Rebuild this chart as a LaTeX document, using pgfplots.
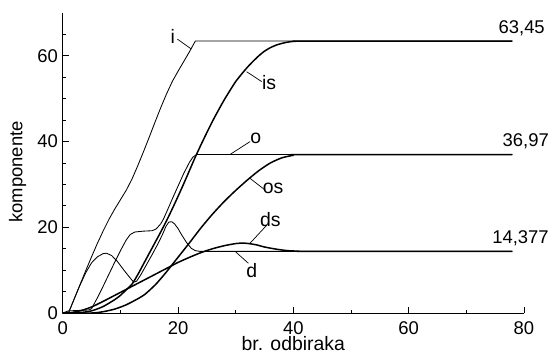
\documentclass[border=0pt]{standalone}
\usepackage{fontspec}
\setmainfont{Liberation Sans}
\usepackage{pgfplots}
\pgfplotsset{compat=1.18}
\begin{document}
\begin{tikzpicture}
\begin{axis}[
 at={(0,0)}, anchor=south west,
 width=461.3bp, height=300bp, scale only axis,
 xmin=0,xmax=80,ymin=0,ymax=70,
 axis x line*=bottom, axis y line*=left,
 axis line style={line width=1bp, -},
 xtick={0,20,40,60,80}, ytick={0,20,40,60},
 minor xtick={10,30,50,70}, minor ytick={5,10,15,25,30,35,45,50,55,65},
 tick align=inside,
 major tick length=6bp, minor tick length=3.5bp,
 tick style={line width=0.9bp, black},
 ticklabel style={font=\fontsize{18.5}{20}\selectfont, inner sep=0pt},
 /pgf/number format/assume math mode=true,
 xticklabel style={yshift=-8.5bp},
 yticklabel style={xshift=-4.5bp},
 clip=false,
 xlabel={br. odbiraka}, ylabel={komponente},
 xlabel style={at={(axis description cs:0.5,-0.124)}, anchor=base, inner sep=0pt, font=\fontsize{19.5}{21}\selectfont},
 ylabel style={at={(axis description cs:-0.098,0.47)}, anchor=center, inner sep=0pt, font=\fontsize{18.5}{20}\selectfont},
 every axis plot/.append style={no marks, black, line join=round},
 thin curve/.style={line width=0.85bp},
 thick curve/.style={line width=1.5bp, smooth, tension=0.4},
]
% i
\addplot[thin curve] coordinates {(0,0)(1,0)(2,3.3)(3,6.6)(4,9.9)(5,13.1)(6,16.2)(7,19.1)(8,21.8)(9,24.2)(10,26.4)(11,28.6)(12,31.2)(13,34.3)(14,37.6)(15,41)(16,44.5)(17,47.9)(18,51.1)(19,54)(20,56.4)(21,58.7)(22,61)(23,63.45)(78,63.45)};
% d
\addplot[thin curve] coordinates {(0,0)(1,0)(2,3.3)(3,6.5)(4,9.4)(5,11.7)(6,13.1)(7,13.85)(7.6,13.95)(8.5,13.4)(9.5,12)(10.5,10.2)(11.5,8.5)(12.3,7.2)(12.8,7.4)(13.5,8.8)(14.5,11.2)(15.5,13.6)(16.5,16.1)(17.3,18.3)(17.9,20.2)(18.4,21.2)(18.9,21.3)(19.4,20.8)(20,19.7)(20.6,18.3)(21.5,16.4)(22.3,15.1)(23,14.55)(23.8,14.377)(78,14.377)};
% o
\addplot[thin curve] coordinates {(0,0)(1,0.5)(4.5,0.7)(5,1)(6,3.5)(7,6.2)(8,9)(9,11.8)(10,14.5)(11,17)(11.7,18.3)(12.5,18.9)(14,19.1)(15.5,19.2)(16.2,19.6)(17,20.8)(17.5,22)(18,23.5)(19,26.6)(20,29.6)(21,32.6)(22,35.2)(22.6,36.4)(23.2,36.97)(78,36.97)};
% is
\addplot[thick curve] coordinates {(0,0)(3,0.1)(5,0.5)(7,1.5)(9,3.1)(10,4.1)(11,5.4)(12,6.7)(13,8.9)(14,11.4)(15,13.9)(16,16.4)(17,18.9)(18,21.5)(19,24.3)(20,27.2)(21,30.2)(22,33.3)(23,36.4)(24,39.3)(25,42.1)(26,44.8)(27,47.3)(28,49.7)(29,51.9)(30,54)(31,55.7)(32,57.3)(33,58.7)(34,60)(35,61.1)(36,61.9)(37,62.5)(38,62.9)(39,63.2)(40,63.38)(41,63.44)(42,63.45)(78,63.45)};
% os
\addplot[thick curve] coordinates {(0,0)(5,0)(7,0.3)(9,0.9)(11,1.9)(13,3.3)(14.3,4.4)(16,6.5)(17,8)(18,9.6)(19,11.3)(20,13)(22,16.4)(24,19.9)(26,23.1)(28,26)(30,28.6)(32,31)(34,33.2)(36,35)(38,36.2)(40,36.8)(42,36.97)(78,36.97)};
% ds
\addplot[thick curve] coordinates {(0,0)(1,0)(3,0.5)(5,1.4)(7,2.7)(9,4.1)(11,5.5)(13,6.9)(15,8.3)(17,9.7)(19,11.1)(20,11.8)(22,13)(24,14.1)(26,15)(28,15.7)(30,16.2)(31,16.3)(32,16.25)(33.6,15.9)(35,15.4)(37,14.9)(39,14.55)(41,14.42)(43,14.377)(78,14.377)};
% labels
\begin{scope}[every node/.style={font=\fontsize{19.5}{21}\selectfont, inner sep=0pt}]
\draw[line width=0.7bp] (axis cs:19.9,63.9) -- (axis cs:22.3,61.6);
\node at (axis cs:19.1,64.6) {i};
\draw[line width=0.7bp] (axis cs:31.9,56.3) -- (axis cs:34.5,54);
\node at (axis cs:35.8,53.8) {is};
\draw[line width=0.7bp] (axis cs:29,36.97) -- (axis cs:32.5,40);
\node at (axis cs:33.5,40.8) {o};
\draw[line width=0.7bp] (axis cs:32.5,31.4) -- (axis cs:35.1,28.7);
\node at (axis cs:36.5,29.1) {os};
\draw[line width=0.7bp] (axis cs:32.5,16.3) -- (axis cs:35.4,20.5);
\node at (axis cs:36,21.7) {ds};
\draw[line width=0.7bp] (axis cs:29.9,14.377) -- (axis cs:32.2,11.6);
\node at (axis cs:32.8,10) {d};
\end{scope}
\begin{scope}[every node/.style={font=\fontsize{18.5}{20}\selectfont, inner sep=0pt, anchor=base}]
\node at (axis cs:79.6,65.1) {63,45};
\node at (axis cs:80.3,38.8) {36,97};
\node at (axis cs:79.4,16.3) {14,377};
\end{scope}
\end{axis}
\pgfresetboundingbox
\path[use as bounding box] (-62.7bp,-40bp) rectangle (491.3bp,313bp);
\end{tikzpicture}
\end{document}
